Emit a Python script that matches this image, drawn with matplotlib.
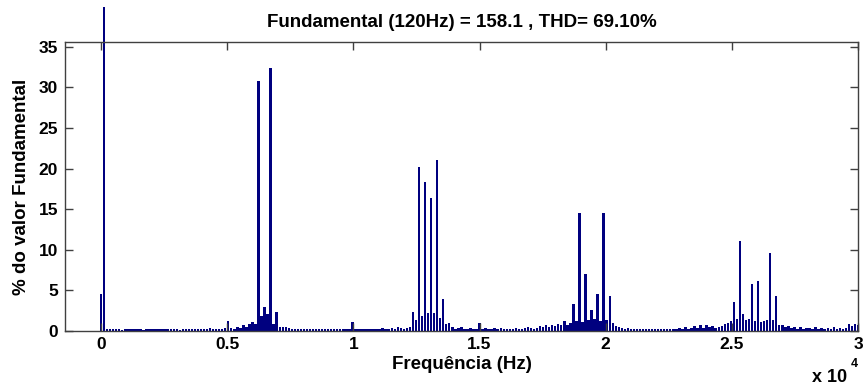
import numpy as np
import matplotlib
matplotlib.use("Agg")
import matplotlib.pyplot as plt
from matplotlib.transforms import Bbox, TransformedBbox

plt.rcParams['font.family'] = ['Liberation Sans', 'DejaVu Sans']
plt.rcParams['font.weight'] = 'bold'

# Spectrum: % of fundamental, one value per 120 Hz bin (0 .. 30000 Hz)
bin_hz = 120
magnitude = [
    4.6, 100.0, 0.3, 0.2, 0.3, 0.2, 0.2, 0.1, 0.2, 0.2,
    0.2, 0.3, 0.2, 0.2, 0.1, 0.2, 0.2, 0.3, 0.2, 0.2,
    0.2, 0.2, 0.3, 0.2, 0.2, 0.2, 0.1, 0.2, 0.3, 0.2,
    0.3, 0.2, 0.2, 0.3, 0.2, 0.3, 0.4, 0.3, 0.3, 0.2,
    0.3, 0.4, 1.2, 0.4, 0.3, 0.5, 0.4, 0.7, 0.5, 0.9,
    1.15, 0.85, 30.8, 1.8, 3.0, 2.1, 32.4, 0.9, 2.4, 0.5,
    0.5, 0.5, 0.4, 0.3, 0.2, 0.3, 0.2, 0.2, 0.3, 0.2,
    0.2, 0.3, 0.2, 0.2, 0.3, 0.2, 0.2, 0.2, 0.3, 0.2,
    0.2, 0.2, 0.3, 1.1, 0.2, 0.2, 0.3, 0.2, 0.2, 0.3,
    0.2, 0.3, 0.3, 0.4, 0.3, 0.3, 0.4, 0.3, 0.5, 0.4,
    0.3, 0.4, 0.5, 2.4, 1.4, 20.2, 1.8, 18.4, 2.2, 16.4,
    2.2, 21.1, 1.6, 4.0, 0.9, 1.0, 0.5, 0.3, 0.4, 0.5,
    0.3, 0.3, 0.4, 0.3, 0.3, 1.0, 0.3, 0.4, 0.3, 0.3,
    0.4, 0.3, 0.4, 0.2, 0.3, 0.3, 0.3, 0.4, 0.3, 0.3,
    0.4, 0.5, 0.4, 0.3, 0.4, 0.6, 0.5, 0.7, 0.5, 0.8,
    0.6, 0.9, 0.8, 1.2, 0.8, 1.0, 3.3, 1.2, 14.5, 1.1,
    7.0, 1.3, 2.6, 1.5, 4.6, 1.2, 14.5, 1.3, 4.3, 1.0,
    0.6, 0.5, 0.4, 0.3, 0.4, 0.3, 0.3, 0.2, 0.3, 0.2,
    0.3, 0.2, 0.3, 0.2, 0.3, 0.2, 0.2, 0.3, 0.2, 0.3,
    0.3, 0.4, 0.3, 0.5, 0.3, 0.4, 0.6, 0.4, 0.7, 0.4,
    0.8, 0.5, 0.6, 0.4, 0.5, 0.6, 0.9, 1.0, 1.2, 3.6,
    1.5, 11.1, 2.1, 1.4, 1.5, 5.8, 1.2, 6.1, 1.1, 1.2,
    1.4, 9.6, 1.3, 4.3, 0.7, 0.8, 0.5, 0.6, 0.4, 0.5,
    0.3, 0.5, 0.3, 0.4, 0.4, 0.3, 0.5, 0.3, 0.4, 0.3,
    0.4, 0.3, 0.5, 0.3, 0.4, 0.3, 0.4, 0.9, 0.6, 0.9,
    0.8,
]
freqs = np.arange(len(magnitude)) * bin_hz

xtick_values = [0, 5000, 10000, 15000, 20000, 25000, 30000]
xtick_labels = ['0', '0.5', '1', '1.5', '2', '2.5', '3']
ytick_values = [0, 5, 10, 15, 20, 25, 30, 35]

title_text = 'Fundamental (120Hz) = 158.1 , THD= 69.10%'
xlabel_text = 'Frequência (Hz)'
ylabel_text = '% do valor Fundamental'

W, H = 864, 390
fig = plt.figure(figsize=(W / 100, H / 100), dpi=100)
ax = fig.add_axes([65 / W, 1 - 331 / H, (858 - 65) / W, (331 - 42) / H])

bars = ax.bar(freqs, magnitude, width=0.8 * bin_hz, color='#00007f',
              edgecolor='none', align='center')
# fundamental bar runs past the top of the axes (as in the original)
top_clip = TransformedBbox(Bbox([[0, 0], [1, 1 - 7 / H]]), fig.transFigure)
bars[1].set_clip_box(top_clip)

ax.set_xlim(-1430, 30000)
ax.set_ylim(0, 35.6)
ax.set_xticks(xtick_values)
ax.set_xticklabels(xtick_labels)
ax.set_yticks(ytick_values)

for s in ax.spines.values():
    s.set_color('#404040')
    s.set_linewidth(1.0)
ax.tick_params(direction='in', length=5.5, width=1.0, color='#404040',
               top=True, right=True, labelsize=12.5, labelcolor='black')
ax.tick_params(axis='x', pad=4)
ax.tick_params(axis='y', pad=5)

ax.set_title(title_text, fontsize=13.5, fontweight='bold', pad=11)
ax.set_xlabel(xlabel_text, fontsize=13.5, fontweight='bold', labelpad=3)
ax.set_ylabel(ylabel_text, fontsize=13.5, fontweight='bold', labelpad=6)

fig.text(812 / W, 1 - 378 / H, 'x 10', fontsize=13, fontweight='bold',
         ha='left', va='center')
fig.text(851 / W, 1 - 364 / H, '4', fontsize=9, fontweight='bold',
         ha='left', va='center')

fig.savefig('out.png', dpi=100)
